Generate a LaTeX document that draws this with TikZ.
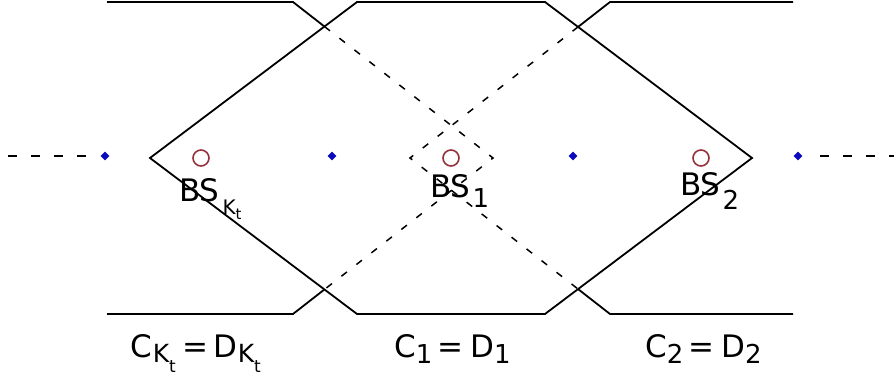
\documentclass[tikz,border=0pt]{standalone}
\usepackage{fontspec}
\setmainfont{DejaVu Sans}
\usetikzlibrary{calc,shapes.geometric}
\definecolor{HexRed}{RGB}{150,50,60}
\definecolor{HexBlue}{RGB}{10,10,190}
\newcommand{\labsize}{\fontsize{31}{31}\selectfont}
\newcommand{\lowsub}[3]{\raisebox{-#1pt}{\fontsize{#2}{#2}\selectfont #3}}
\tikzset{
  hex/edge/.style={draw=black, line width=1.8pt, line join=miter},
  hex/hidden/.style={draw=black, line width=1.5pt, dash pattern=on 7pt off 12pt},
  hex/axis/.style={draw=black, line width=1.5pt, dash pattern=on 9pt off 14pt},
  hex/bs/.style={circle, draw=HexRed, line width=1.6pt, minimum size=16pt, inner sep=0pt},
  hex/dot/.style={diamond, fill=HexBlue, minimum size=9pt, inner sep=0pt},
  hex/label/.style={anchor=base west, inner sep=0pt, font=\labsize}
}

\begin{document}
\begin{tikzpicture}[x=1pt,y=-1pt]
  \useasboundingbox (0,0) rectangle (894,379);
  % corners of the middle (solid) cell
  \coordinate (bigL) at (150,158);
  \coordinate (bigTL) at (357,2);
  \coordinate (bigTR) at (545,2);
  \coordinate (bigR) at (752,158);
  \coordinate (bigBR) at (545,314);
  \coordinate (bigBL) at (357,314);
  % left and right neighbour cells
  \coordinate (leftTL) at (107,2);
  \coordinate (leftTR) at (293,2);
  \coordinate (leftR) at (493,158);
  \coordinate (leftBR) at (293,314);
  \coordinate (leftBL) at (107,314);
  \coordinate (rightTR) at (793,2);
  \coordinate (rightTL) at (610,2);
  \coordinate (rightL) at (410,158);
  \coordinate (rightBL) at (610,314);
  \coordinate (rightBR) at (793,314);
  \coordinate (xTL) at (intersection of leftTR--leftR and bigL--bigTL);
  \coordinate (xBL) at (intersection of leftBR--leftR and bigL--bigBL);
  \coordinate (xTR) at (intersection of rightTL--rightL and bigR--bigTR);
  \coordinate (xBR) at (intersection of rightBL--rightL and bigR--bigBR);

  \draw[hex/edge] (bigL) -- (bigTL) -- (bigTR) -- (bigR) -- (bigBR) -- (bigBL) -- cycle;
  \draw[hex/edge] (leftTL) -- (leftTR) -- (xTL);
  \draw[hex/edge] (leftBL) -- (leftBR) -- (xBL);
  \draw[hex/hidden] (xTL) -- (leftR) -- (xBL);
  \draw[hex/edge] (rightTR) -- (rightTL) -- (xTR);
  \draw[hex/edge] (rightBR) -- (rightBL) -- (xBR);
  \draw[hex/hidden] (xTR) -- (rightL) -- (xBR);

  % axis with the cell borders
  \node[hex/dot] (d0) at (105,156) {};
  \node[hex/dot] (d1) at (332,156) {};
  \node[hex/dot] (d2) at (573,156) {};
  \node[hex/dot] (d3) at (798,156) {};
  \coordinate (axL) at (0,156);
  \coordinate (axLe) at (88,156);
  \coordinate (axRs) at (820,156);
  \coordinate (axR) at (894,156);
  \draw[hex/axis,dash phase=15pt] (axL) -- (axLe);
  \draw[hex/axis] (axRs) -- (axR);

  % base stations
  \node[hex/bs] (bsk) at (201,158) {};
  \node[hex/bs] (bs1) at (451,158) {};
  \node[hex/bs] (bs2) at (701,158) {};
  \node[hex/label] (lbsk) at (179,202) {BS\kern3pt\lowsub{13}{20}{K\lowsub{5}{15}{t}}};
  \node[hex/label] (lbs1) at (430,198) {BS\kern2pt\lowsub{10}{26}{1}};
  \node[hex/label] (lbs2) at (680,196) {BS\kern2pt\lowsub{14}{26}{2}};

  % cell labels
  \node[hex/label] (lck) at (130,357) {C\kern1pt\lowsub{5}{25}{K\lowsub{10}{17}{t}}\kern7pt=\kern5pt D\lowsub{5}{25}{K\lowsub{10}{17}{t}}};
  \node[hex/label] (lc1) at (394,357) {C\lowsub{6}{26}{1}\kern5pt=\kern7pt D\lowsub{6}{26}{1}};
  \node[hex/label] (lc2) at (645,357) {C\lowsub{6}{26}{2}\kern5pt=\kern7pt D\lowsub{6}{26}{2}};
\end{tikzpicture}
\end{document}
